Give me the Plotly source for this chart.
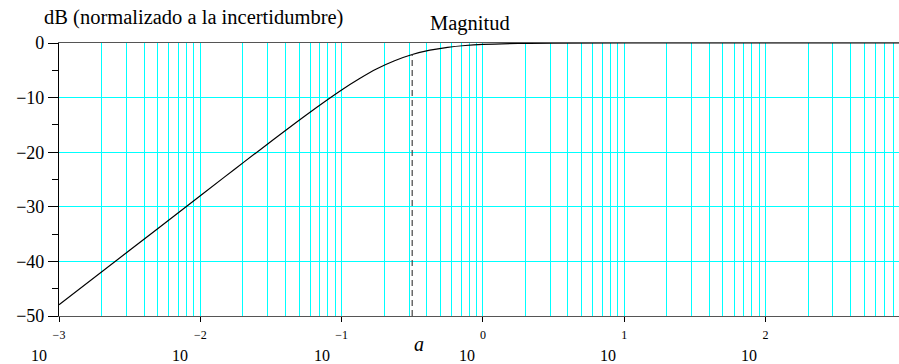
import plotly.graph_objects as go

# ---- data ----
freq_log = [-3.0, -2.5, -2.0, -1.75, -1.5, -1.25, -1.0, -0.875, -0.75, -0.625,
            -0.5, -0.375, -0.25, -0.125, 0.0, 0.25, 0.5, 1.0, 2.0, 3.0]
mag_db = [-47.96, -37.96, -27.97, -22.98, -18.03, -13.17, -8.60, -6.55, -4.72, -3.25,
          -2.11, -1.31, -0.79, -0.46, -0.26, -0.085, -0.027, -0.003, 0.0, 0.0]
a_value = 0.316
a_curve_db = -2.1
y_bottom = -50
decades = [-3, -2, -1, 0, 1, 2, 3]
exp_labels = ["\u22123", "\u22122", "\u22121", "0", "1", "2", "3"]
grid_digits = [1, 2, 3, 4, 5, 6, 7, 8, 9]
ytick_vals = [0, -10, -20, -30, -40, -50]
ytick_text = ["0", "\u221210", "\u221220", "\u221230", "\u221240", "\u221250"]

freqs = [10 ** v for v in freq_log]
grid_vals = [m * 10 ** d for d in decades for m in grid_digits]

SERIF = "Liberation Serif"
CYAN = "#00FFFF"

fig = go.Figure()
fig.add_trace(go.Scatter(x=freqs, y=mag_db, mode="lines",
                         line=dict(color="black", width=1.2, shape="spline"),
                         showlegend=False, hoverinfo="skip"))
fig.add_trace(go.Scatter(x=[a_value, a_value], y=[y_bottom, a_curve_db], mode="lines",
                         line=dict(color="#444444", width=1.2, dash="6px,4px"),
                         showlegend=False, hoverinfo="skip"))

XRANGE = [-3, 2.945]
fig.update_layout(
    width=899, height=364,
    margin=dict(l=59, r=0, t=43, b=48),
    paper_bgcolor="white", plot_bgcolor="white",
    font=dict(family=SERIF, color="black"),
    xaxis=dict(
        type="log", range=XRANGE,
        tickvals=[10 ** d for d in decades], ticktext=exp_labels,
        tickfont=dict(size=12, family=SERIF, color="black"),
        ticks="outside", ticklen=5, tickcolor="black", tickwidth=1,
        showgrid=False,
        showline=True, linecolor="#555555", linewidth=1.2, mirror=True,
        zeroline=False, ticklabelstandoff=2,
    ),
    xaxis2=dict(
        type="log", range=XRANGE, overlaying="x", matches="x",
        tickvals=grid_vals, showticklabels=False, ticks="",
        showgrid=True, gridcolor=CYAN, gridwidth=1,
        showline=False, zeroline=False, layer="below traces",
    ),
    yaxis=dict(
        range=[-50, 0],
        tickvals=ytick_vals, ticktext=ytick_text,
        tickfont=dict(size=18, family=SERIF, color="black"),
        ticks="outside", ticklen=10, tickcolor="black", tickwidth=1,
        showgrid=True, gridcolor=CYAN, gridwidth=1,
        showline=True, linecolor="black", linewidth=1.2, mirror=False,
        minor=dict(dtick=5, ticks="outside", ticklen=6, tickcolor="black", showgrid=False),
        zeroline=False,
    ),
)
# invisible trace to activate the grid axis
fig.add_trace(go.Scatter(x=[grid_vals[0]], y=[y_bottom], xaxis="x2", mode="markers",
                         marker=dict(opacity=0), showlegend=False, hoverinfo="skip"))

annotations = [
    dict(text="dB (normalizado a la incertidumbre)", xref="paper", yref="paper",
         x=-0.0202, y=1.095, xanchor="left", yanchor="middle", showarrow=False,
         font=dict(size=20.5, family=SERIF, color="black")),
    dict(text="Magnitud", xref="paper", yref="paper",
         x=0.489, y=1.073, xanchor="center", yanchor="middle", showarrow=False,
         font=dict(size=20.5, family=SERIF, color="black")),
    dict(text="<i>a</i>", xref="x", yref="paper", x=-0.5, xshift=7,
         y=-0.103, xanchor="center", yanchor="middle", showarrow=False,
         font=dict(size=20, family=SERIF, color="black")),
]
for d in decades:
    annotations.append(dict(text="10", xref="x", yref="paper", x=d,
                            xshift=-20 if d < 0 else -16,
                            y=-0.146, xanchor="center", yanchor="middle", showarrow=False,
                            font=dict(size=16, family=SERIF, color="black")))
fig.update_layout(annotations=annotations)

fig.write_html("out.html")
